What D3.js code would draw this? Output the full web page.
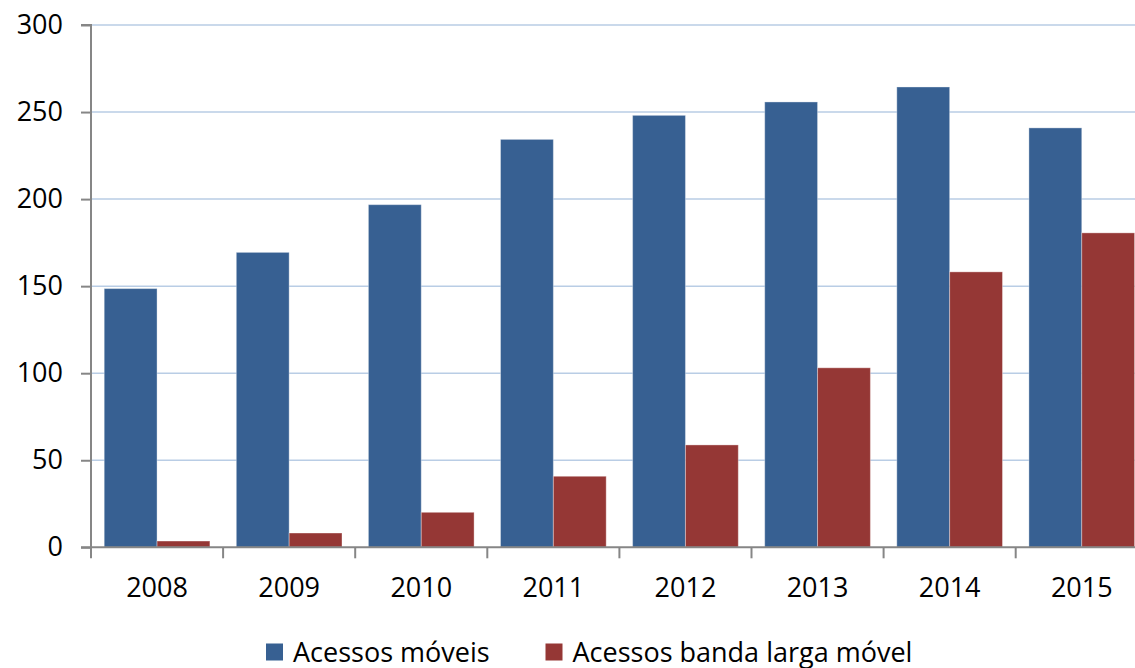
<!DOCTYPE html>
<html>
<head>
<meta charset="utf-8">
<script src="https://cdn.jsdelivr.net/npm/d3@7"></script>
<style>
  html, body { margin: 0; padding: 0; background: #fff; }
  svg { display: block; }
  text { font-family: "Open Sans", Lato, sans-serif; fill: #000; }
</style>
</head>
<body>
<svg id="chart" width="1135" height="668"></svg>
<script>
const categories = ["2008", "2009", "2010", "2011", "2012", "2013", "2014", "2015"];
const seriesNames = ["Acessos móveis", "Acessos banda larga móvel"];
const acessosMoveis = [148.6, 169.4, 196.8, 234.3, 248.1, 255.8, 264.4, 240.9];
const bandaLargaMovel = [3.6, 8.2, 20.1, 40.8, 58.8, 103.1, 158.2, 180.6];
const yTicks = [0, 50, 100, 150, 200, 250, 300];
const colors = ["#376092", "#953735"];

const svg = d3.select("#chart");
const plotLeft = 91, plotTop = 25, plotBottom = 547.3, bandW = 132.1;
const FONT = "'Open Sans', Lato, sans-serif";
const x = d3.scaleBand().domain(categories).range([plotLeft, plotLeft + bandW * categories.length]).paddingInner(0).paddingOuter(0);
const y = d3.scaleLinear().domain([0, 300]).range([plotBottom, plotTop]);
const x1 = d3.scaleBand().domain([0, 1]).range([0, x.bandwidth()]).paddingOuter(0.25).paddingInner(0);

// gridlines
svg.append("g").selectAll("line").data(yTicks.filter(d => d > 0)).join("line")
  .attr("x1", plotLeft).attr("x2", 1135)
  .attr("y1", d => y(d)).attr("y2", d => y(d))
  .attr("stroke", "#b9cde5").attr("stroke-width", 1.5);

// bars
const series = [acessosMoveis, bandaLargaMovel];
const g = svg.append("g");
series.forEach((vals, si) => {
  g.selectAll(null).data(vals).join("rect")
    .attr("x", (d, i) => x(categories[i]) + x1(si))
    .attr("width", x1.bandwidth())
    .attr("y", d => y(d))
    .attr("height", d => y(0) - y(d))
    .attr("fill", colors[si])
    .attr("stroke", "rgba(255,255,255,0.35)")
    .attr("stroke-width", 1);
});

// y axis
const yAxis = d3.axisLeft(y).tickValues(yTicks).tickSize(10).tickPadding(18).tickFormat(d3.format("d"));
const ya = svg.append("g").attr("transform", `translate(${plotLeft},0)`).call(yAxis);
ya.select(".domain").attr("stroke", "#868686").attr("stroke-width", 2).attr("d", `M-10,${plotTop}H0V${plotBottom}`);
ya.selectAll(".tick line").attr("stroke", "#868686").attr("stroke-width", 2);
ya.selectAll(".tick text").attr("font-size", 27).attr("font-family", FONT).attr("fill", "#000");

// x axis
const xAxis = d3.axisBottom(x).tickSize(0).tickPadding(40);
const xa = svg.append("g").attr("transform", `translate(0,${plotBottom})`).call(xAxis);
xa.select(".domain").attr("stroke", "#868686").attr("stroke-width", 2).attr("d", `M${plotLeft - 10},0H1135`);
xa.selectAll(".tick text").attr("font-size", 27).attr("font-family", FONT).attr("fill", "#000").attr("dy", "0").attr("y", 50);
xa.append("g").selectAll("line").data(d3.range(categories.length + 1)).join("line")
  .attr("x1", i => plotLeft + i * bandW).attr("x2", i => plotLeft + i * bandW)
  .attr("y1", 0).attr("y2", 11)
  .attr("stroke", "#868686").attr("stroke-width", 2);

// legend
const legendItems = [{name: seriesNames[0], color: colors[0], x: 266}, {name: seriesNames[1], color: colors[1], x: 545.5}];
const lg = svg.append("g");
legendItems.forEach(it => {
  lg.append("rect").attr("x", it.x).attr("y", 643.5).attr("width", 17).attr("height", 17).attr("fill", it.color);
  lg.append("text").attr("x", it.x + 27).attr("y", 661.5).attr("font-size", 27).attr("font-family", FONT).text(it.name);
});
</script>
</body>
</html>
